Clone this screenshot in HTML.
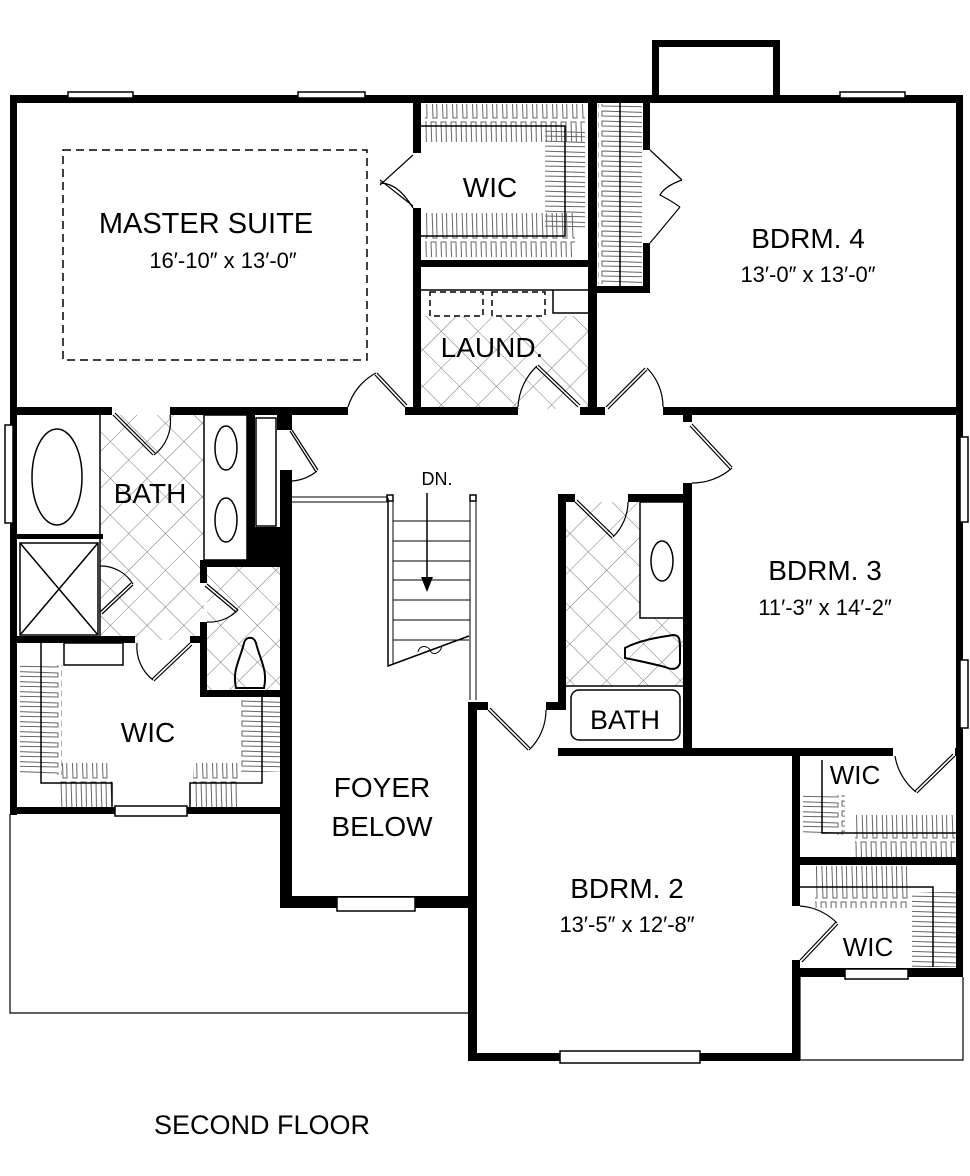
<!DOCTYPE html>
<html><head><meta charset="utf-8"><style>
html,body{margin:0;padding:0;background:#fff;}
svg{display:block;}
text{font-family:"Liberation Sans",sans-serif;fill:#000;}
</style></head><body>
<svg width="970" height="1176" viewBox="0 0 970 1176" xmlns="http://www.w3.org/2000/svg">
<defs>
<pattern id="tile" width="26" height="26" patternUnits="userSpaceOnUse" patternTransform="rotate(45)">
<path d="M0 0H26M0 0V26" stroke="#777" stroke-width="1" fill="none"/>
</pattern>
<pattern id="hangV" width="10" height="60" patternUnits="userSpaceOnUse">
<path d="M1 2 L3 58 L7 58 L6 2 Z" fill="none" stroke="#666" stroke-width="1"/>
</pattern>
<pattern id="hangH" width="60" height="10" patternUnits="userSpaceOnUse">
<path d="M2 1 L58 3 L58 7 L2 6 Z" fill="none" stroke="#666" stroke-width="1"/>
</pattern>
</defs>

<rect x="100" y="415" width="104" height="225" fill="url(#tile)"/>
<rect x="207" y="567" width="76" height="123" fill="url(#tile)"/>
<rect x="420" y="316" width="168" height="93" fill="url(#tile)"/>
<rect x="566" y="502" width="74" height="184" fill="url(#tile)"/>
<rect x="640" y="618" width="45" height="68" fill="url(#tile)"/>

<rect x="425" y="104" width="160" height="38" fill="url(#hangV)"/>
<rect x="425" y="213" width="150" height="44" fill="url(#hangV)"/>
<rect x="545" y="130" width="40" height="100" fill="url(#hangH)"/>
<rect x="598" y="104" width="44" height="180" fill="url(#hangH)"/>
<rect x="20" y="665" width="42" height="110" fill="url(#hangH)"/>
<rect x="240" y="697" width="42" height="75" fill="url(#hangH)"/>
<rect x="58" y="763" width="54" height="44" fill="url(#hangV)"/>
<rect x="193" y="763" width="45" height="44" fill="url(#hangV)"/>
<rect x="803" y="795" width="42" height="40" fill="url(#hangH)"/>
<rect x="855" y="815" width="100" height="42" fill="url(#hangV)"/>
<rect x="815" y="866" width="95" height="42" fill="url(#hangV)"/>
<rect x="912" y="892" width="44" height="75" fill="url(#hangH)"/>

<g fill="#000">
<rect x="652" y="40" width="128" height="7"/>
<rect x="652" y="40" width="7" height="60"/>
<rect x="773" y="40" width="7" height="60"/>
<rect x="10" y="95" width="953" height="8"/>
<rect x="10" y="95" width="7" height="720"/>
<rect x="956" y="95" width="7" height="882"/>
<rect x="10" y="407" width="102" height="8"/>
<rect x="170" y="407" width="178" height="8"/>
<rect x="405" y="407" width="113" height="8"/>
<rect x="580" y="407" width="25" height="8"/>
<rect x="663" y="407" width="300" height="8"/>
<rect x="413" y="98" width="8" height="55"/>
<rect x="413" y="208" width="8" height="205"/>
<rect x="413" y="260" width="180" height="7"/>
<rect x="588" y="98" width="9" height="315"/>
<rect x="643" y="98" width="7" height="52"/>
<rect x="643" y="243" width="7" height="50"/>
<rect x="588" y="286" width="62" height="7"/>
<rect x="683" y="413" width="9" height="9"/>
<rect x="683" y="483" width="9" height="272"/>
<rect x="558" y="494" width="17" height="8"/>
<rect x="628" y="494" width="64" height="8"/>
<rect x="558" y="494" width="8" height="216"/>
<rect x="546" y="702" width="20" height="8"/>
<rect x="558" y="748" width="335" height="8"/>
<rect x="955" y="748" width="8" height="8"/>
<rect x="468" y="702" width="20" height="8"/>
<rect x="468" y="702" width="9" height="358"/>
<rect x="468" y="1053" width="332" height="8"/>
<rect x="792" y="748" width="8" height="158"/>
<rect x="792" y="960" width="8" height="100"/>
<rect x="800" y="857" width="163" height="8"/>
<rect x="800" y="968" width="163" height="9"/>
<rect x="280" y="480" width="12" height="428"/>
<rect x="280" y="896" width="190" height="12"/>
<rect x="10" y="636" width="125" height="7"/>
<rect x="190" y="636" width="17" height="7"/>
<rect x="200" y="560" width="7" height="23"/>
<rect x="200" y="622" width="7" height="75"/>
<rect x="200" y="560" width="90" height="7"/>
<rect x="200" y="690" width="90" height="7"/>
<rect x="247" y="415" width="8" height="150"/>
<rect x="277" y="415" width="15" height="15"/>
<rect x="280" y="470" width="12" height="100"/>
<rect x="247" y="527" width="45" height="40"/>
<rect x="17" y="534" width="86" height="5"/>
<rect x="10" y="807" width="273" height="7"/>
</g>

<g fill="none" stroke="#000" stroke-width="1.5">
<rect x="68" y="92" width="65" height="6" fill="#fff"/>
<rect x="298" y="92" width="67" height="6" fill="#fff"/>
<rect x="840" y="92" width="65" height="6" fill="#fff"/>
<rect x="960" y="437" width="8" height="85" fill="#fff"/>
<rect x="960" y="660" width="8" height="68" fill="#fff"/>
<rect x="5" y="425" width="8" height="98" fill="#fff"/>
<rect x="115" y="806" width="72" height="10" fill="#fff"/>
<rect x="337" y="897" width="78" height="14" fill="#fff"/>
<rect x="560" y="1051" width="140" height="12" fill="#fff"/>
<rect x="845" y="969" width="63" height="10" fill="#fff"/>
<path d="M10 814 V1013 H470" stroke-width="1.2"/>
<path d="M800 977 V1060 H963 V977" stroke-width="1.2"/>
<rect x="63" y="150" width="304" height="210" stroke-dasharray="8 5"/>
<path d="M421 126 H565 V236 H421"/>
<line x1="620" y1="103" x2="620" y2="288"/>
<line x1="420" y1="290" x2="588" y2="290"/>
<rect x="430" y="292" width="53" height="24" stroke-dasharray="6 4"/>
<rect x="492" y="292" width="53" height="24" stroke-dasharray="6 4"/>
<path d="M553 290 V313 H588"/>
<line x1="100" y1="415" x2="100" y2="636"/>
<ellipse cx="57" cy="477" rx="25" ry="48"/>
<rect x="20" y="543" width="78" height="92"/>
<path d="M20 543 L98 635 M98 543 L20 635"/>
<rect x="204" y="415" width="43" height="145"/>
<ellipse cx="226" cy="448" rx="11" ry="22"/>
<ellipse cx="226" cy="520" rx="11" ry="22"/>
<rect x="256" y="418" width="20" height="108"/>
<path d="M236 688 C232 670 240 660 244 643 C246 636 254 636 256 643 C260 660 268 670 264 688 Z" stroke-width="2"/>
<path d="M41 643 V783 H112 V807"/>
<path d="M262 697 V783 H190 V807"/>
<rect x="64" y="643" width="59" height="22"/>
<rect x="640" y="502" width="45" height="116"/>
<ellipse cx="662" cy="561" rx="11" ry="20"/>
<line x1="566" y1="686" x2="685" y2="686"/>
<rect x="571" y="690" width="109" height="50" rx="8"/>
<path d="M625 648 C640 640 660 637 673 635 C680 635 680 640 680 650 V663 C678 670 672 670 665 667 C650 663 635 660 625 658 Z" stroke-width="2"/>
<path d="M822 760 V833 H956"/>
<path d="M800 887 H933 V967"/>
<path d="M292 497 H388 M292 502 H388" stroke-width="1"/>
<rect x="387" y="495" width="6" height="6"/>
<rect x="470" y="495" width="6" height="6"/>
<path d="M388 498 V666 L469 636" stroke-width="1.5"/>
<path d="M393 500 V664" stroke-width="1"/>
<path d="M470 500 V700 M476 500 V700" stroke-width="1"/>
<g stroke-width="1">
<path d="M393 521H470M393 541H470M393 561H470M393 580H470M393 600H470M393 620H470M393 640H469"/>
</g>
<path d="M418 652 C420 644 428 646 430 650 C432 656 440 654 442 646" stroke-width="1"/>
<line x1="427" y1="493" x2="427" y2="578" stroke-width="1.5"/>
</g>
<polygon points="421,577 433,577 427,592" fill="#000"/>

<g fill="none" stroke="#000" stroke-width="1.2">
<path d="M405 407 L375 375 M407 405 L377 373"/><path d="M348 407 A57 57 0 0 1 376 373"/>
<path d="M578 407 L536 367 M580 405 L538 365"/><path d="M518 407 A60 60 0 0 1 537 366"/>
<path d="M606 407 L645 368 M608 409 L647 370"/><path d="M647 368 A55 55 0 0 1 663 407"/>
<path d="M692 424 L732 467 M690 426 L730 469"/><path d="M732 468 A60 60 0 0 1 692 483"/>
<path d="M413 155 L380 185 M413 206 L380 180"/><path d="M380 183 C395 183 405 195 413 208"/>
<path d="M650 150 L682 180 M650 243 L680 207"/><path d="M682 180 Q665 186 660 195 Q670 200 680 207"/>
<path d="M113 415 L153 455 M115 413 L155 453"/><path d="M154 455 A42 42 0 0 0 170 415"/>
<path d="M100 612 L131 583 M102 614 L133 585"/><path d="M100 566 A38 38 0 0 1 133 584"/>
<path d="M207 584 L238 610 M205 586 L236 612"/><path d="M238 610 A40 40 0 0 1 207 622"/>
<path d="M190 643 L152 679 M192 645 L154 681"/><path d="M137 643 A42 42 0 0 0 153 680"/>
<path d="M292 430 L318 470 M290 431 L316 472"/><path d="M317 471 A45 45 0 0 1 292 481"/>
<path d="M575 502 L612 538 M577 500 L614 536"/><path d="M613 537 A50 50 0 0 0 628 502"/>
<path d="M488 710 L528 750 M490 708 L530 748"/><path d="M529 750 A55 55 0 0 0 546 710"/>
<path d="M955 756 L917 793 M953 754 L915 791"/><path d="M916 792 A58 58 0 0 1 895 756"/>
<path d="M800 960 L836 922 M802 962 L838 924"/><path d="M837 923 A58 58 0 0 0 800 906"/>
</g>

<text x="206" y="233" font-size="29" text-anchor="middle">MASTER SUITE</text>
<text x="223" y="268" font-size="22" text-anchor="middle">16′-10″ x 13′-0″</text>
<text x="490" y="197" font-size="28" text-anchor="middle">WIC</text>
<text x="492" y="357" font-size="28" text-anchor="middle">LAUND.</text>
<text x="808" y="248" font-size="28" text-anchor="middle">BDRM. 4</text>
<text x="808" y="282" font-size="22" text-anchor="middle">13′-0″ x 13′-0″</text>
<text x="150" y="503" font-size="28" text-anchor="middle">BATH</text>
<text x="437" y="485" font-size="18" text-anchor="middle">DN.</text>
<text x="825" y="580" font-size="28" text-anchor="middle">BDRM. 3</text>
<text x="825" y="615" font-size="22" text-anchor="middle">11′-3″ x 14′-2″</text>
<text x="625" y="729" font-size="27" text-anchor="middle">BATH</text>
<text x="148" y="742" font-size="28" text-anchor="middle">WIC</text>
<text x="382" y="797" font-size="28" text-anchor="middle">FOYER</text>
<text x="382" y="836" font-size="28" text-anchor="middle">BELOW</text>
<text x="855" y="784" font-size="26" text-anchor="middle">WIC</text>
<text x="627" y="898" font-size="28" text-anchor="middle">BDRM. 2</text>
<text x="627" y="932" font-size="22" text-anchor="middle">13′-5″ x 12′-8″</text>
<text x="868" y="956" font-size="26" text-anchor="middle">WIC</text>
<text x="262" y="1134" font-size="27" text-anchor="middle">SECOND FLOOR</text>
</svg>
</body></html>
